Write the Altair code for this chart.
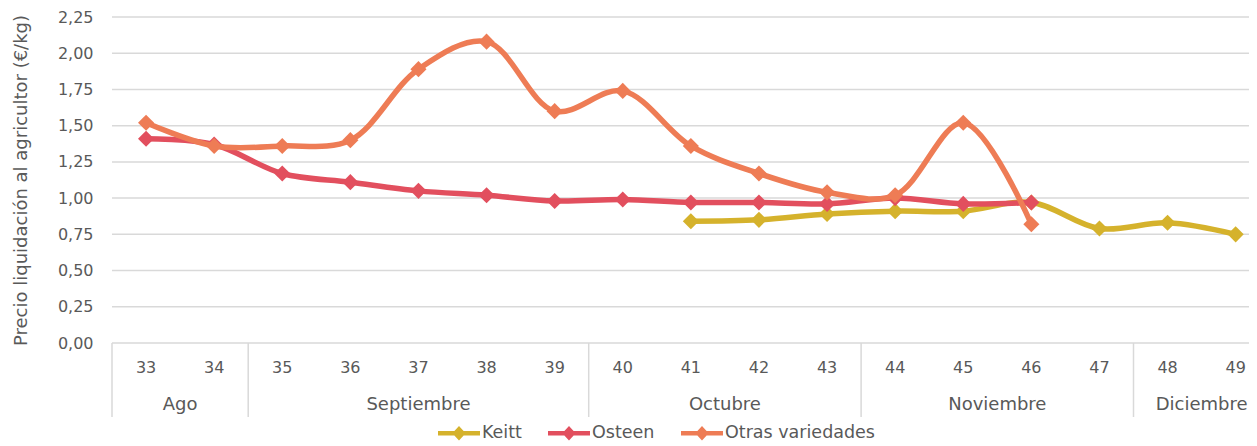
import altair as alt
import pandas as pd

weeks = list(range(33, 50))
series_names = ["Keitt", "Osteen", "Otras variedades"]
colors = ["#D5B22C", "#E24F5E", "#EE7C55"]

keitt_weeks = [41, 42, 43, 44, 45, 46, 47, 48, 49]
keitt_vals = [0.84, 0.85, 0.89, 0.91, 0.91, 0.97, 0.79, 0.83, 0.75]

osteen_weeks = list(range(33, 47))
osteen_vals = [1.41, 1.37, 1.17, 1.11, 1.05, 1.02, 0.98, 0.99, 0.97, 0.97, 0.96, 1.00, 0.96, 0.97]

otras_weeks = list(range(33, 47))
otras_vals = [1.52, 1.36, 1.36, 1.40, 1.89, 2.08, 1.60, 1.74, 1.36, 1.17, 1.04, 1.02, 1.52, 0.82]

months = ["Ago", "Septiembre", "Octubre", "Noviembre", "Diciembre"]
month_first = [33, 35, 40, 44, 48]
month_last = [34, 39, 43, 47, 49]

y_ticks = [0, 0.25, 0.5, 0.75, 1.0, 1.25, 1.5, 1.75, 2.0, 2.25]

FONT = "DejaVu Sans"
GRAY = "#595959"
W, H = 1137, 326
PX_PER_WEEK = 68.1
x_dom = [32.5, 32.5 + W / PX_PER_WEEK]

rows = []
for s, ws, vs in [("Keitt", keitt_weeks, keitt_vals),
                  ("Osteen", osteen_weeks, osteen_vals),
                  ("Otras variedades", otras_weeks, otras_vals)]:
    for w, v in zip(ws, vs):
        rows.append({"serie": s, "week": w, "value": v})
df = pd.DataFrame(rows)

xs = alt.Scale(domain=x_dom, nice=False, zero=False)
ys = alt.Scale(domain=[0, 2.25], nice=False)
cs = alt.Scale(domain=series_names, range=colors)

legend_path = ("M-1,-0.11 L-0.22,-0.11 L0,-0.34 L0.22,-0.11 L1,-0.11 "
               "L1,0.11 L0.22,0.11 L0,0.34 L-0.22,0.11 L-1,0.11 Z")

grid = alt.Chart(pd.DataFrame({"v": y_ticks})).mark_rule(
    color="#D9D9D9", strokeWidth=1.5
).encode(
    y=alt.Y("v:Q", scale=ys,
            axis=alt.Axis(values=y_ticks, grid=False, domain=False, ticks=False,
                          labelOverlap=False,
                          labelExpr="replace(format(datum.value, '.2f'), '.', ',')",
                          labelFont=FONT, labelFontSize=16, labelColor=GRAY,
                          labelPadding=19,
                          title="Precio liquidación al agricultor (€/kg)",
                          titleFont=FONT, titleFontSize=18, titleFontWeight="normal",
                          titleColor=GRAY, titlePadding=27)),
    x=alt.value(0), x2=alt.value(W),
)

layers = [grid]
for i, s in enumerate(series_names):
    d = df[df.serie == s]
    line = alt.Chart(d).mark_line(strokeWidth=5.5, interpolate="catmull-rom").encode(
        x=alt.X("week:Q", scale=xs, axis=None),
        y=alt.Y("value:Q", scale=ys, axis=None),
        color=alt.Color("serie:N", scale=cs, legend=None),
    )
    pts = alt.Chart(d).mark_point(shape="diamond", filled=True, size=260, opacity=1).encode(
        x=alt.X("week:Q", scale=xs, axis=None),
        y=alt.Y("value:Q", scale=ys, axis=None),
        color=alt.Color("serie:N", scale=cs,
                        legend=alt.Legend(
                            orient="none", legendX=326, legendY=395,
                            direction="horizontal", title=None,
                            symbolType=legend_path, symbolSize=1764,
                            symbolStrokeWidth=0, symbolOpacity=1,
                            labelFont=FONT, labelFontSize=17.5, labelColor=GRAY,
                            labelOffset=2, columnPadding=26,
                        ) if i == 0 else None),
    )
    layers += [line, pts]

week_df = pd.DataFrame({"week": weeks, "label": [str(w) for w in weeks]})
week_text = alt.Chart(week_df).mark_text(
    font=FONT, fontSize=16, color=GRAY, baseline="middle"
).encode(
    x=alt.X("week:Q", scale=xs, axis=None),
    y=alt.value(H + 25),
    text="label:N",
)

mdf = pd.DataFrame({"month": months, "first": month_first, "last": month_last})
mdf["center"] = (mdf["first"] + mdf["last"]) / 2
mdf["sep"] = mdf["first"] - 0.5
month_text = alt.Chart(mdf).mark_text(
    font=FONT, fontSize=18, color=GRAY, baseline="middle"
).encode(
    x=alt.X("center:Q", scale=xs, axis=None),
    y=alt.value(H + 62),
    text="month:N",
)
seps = alt.Chart(mdf).mark_rule(color="#D9D9D9", strokeWidth=1.5).encode(
    x=alt.X("sep:Q", scale=xs, axis=None),
    y=alt.value(H), y2=alt.value(H + 74),
)

chart = alt.layer(*layers, seps, week_text, month_text).resolve_scale(
    color="shared"
).resolve_legend(color="independent").resolve_axis(y="independent").properties(
    width=W, height=H,
    autosize=alt.AutoSizeParams(type="none"),
    padding={"left": 104, "top": 9, "right": 0, "bottom": 101},
).configure(background="white").configure_view(stroke=None).configure_axis(domain=False)

chart.save("out.html", embed_options={"renderer": "svg", "actions": False})
